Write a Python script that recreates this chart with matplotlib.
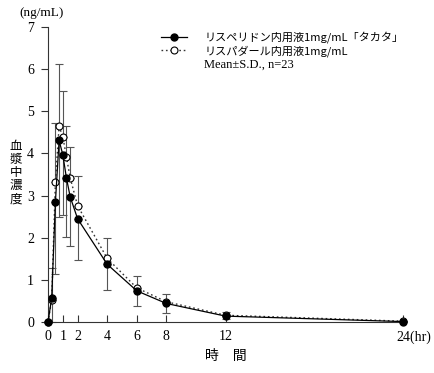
import matplotlib
matplotlib.use("Agg")
import matplotlib.pyplot as plt
import matplotlib.transforms as mtransforms
from matplotlib.lines import Line2D

time = [0, 0.25, 0.5, 0.75, 1, 1.25, 1.5, 2, 4, 6, 8, 12, 24]
generic_mean = [0, 0.57, 2.84, 4.31, 3.97, 3.41, 2.97, 2.45, 1.37, 0.74, 0.44, 0.14, 0.01]
generic_sd = [0, 0.57, 1.70, 1.82, 1.43, 1.40, 1.16, 0.99, 0.61, 0.35, 0.23, 0.07, 0.01]
brand_mean = [0, 0.52, 3.33, 4.64, 4.40, 3.91, 3.42, 2.76, 1.51, 0.81, 0.48, 0.16, 0.02]
brand_sd = [0, 0.75, 1.40, 1.48, 1.09, 0.75, 0.74, 0.71, 0.48, 0.29, 0.19, 0.07, 0.01]
xticks = [0, 1, 2, 4, 6, 8, 12, 24]
xticklabels = ["0", "1", "2", "4", "6", "8", "12", "24(hr)"]
yticks = [0, 1, 2, 3, 4, 5, 6, 7]
label_generic = "リスペリドン内用液1mg/mL「タカタ」"
label_brand = "リスパダール内用液1mg/mL"
label_note = "Mean±S.D., n=23"
ylabel_chars = ["血", "漿", "中", "濃", "度"]

jp = ["Noto Sans CJK JP", "DejaVu Sans"]
serif = ["Liberation Serif", "DejaVu Serif"]

fig = plt.figure(figsize=(4.34, 3.73), dpi=100)
ax = fig.add_axes([0.1106, 0.1367, 0.818, 0.791])

ecol = "#555555"
ms = 5
ax.errorbar(time, brand_mean, yerr=[[0]*len(brand_sd), brand_sd], fmt="none",
            ecolor=ecol, elinewidth=0.8, capsize=3, capthick=0.8, clip_on=False, zorder=2)
ax.errorbar(time, generic_mean, yerr=[generic_sd, [0]*len(generic_sd)], fmt="none",
            ecolor=ecol, elinewidth=0.8, capsize=3, capthick=0.8, clip_on=False, zorder=2)

ax.plot(time, brand_mean, linestyle=(0, (1.2, 2.0)), color="#333333", lw=1.0,
        marker="o", mfc="white", mec="black", ms=ms, mew=0.8, clip_on=False, zorder=3)
ax.plot(time, generic_mean, linestyle="-", color="black", lw=0.9,
        marker="o", mfc="black", mec="black", ms=ms, clip_on=False, zorder=4)

ax.set_xlim(0, 24)
ax.set_ylim(0, 7)
ax.spines["top"].set_visible(False)
ax.spines["right"].set_visible(False)
for s in ("left", "bottom"):
    ax.spines[s].set_linewidth(0.8)
    ax.spines[s].set_color("#333333")

ax.set_xticks(xticks)
ax.set_xticklabels(xticklabels, fontfamily=serif, fontsize=10)
ax.set_yticks(yticks)
ax.set_yticklabels([str(v) for v in yticks], fontfamily=serif, fontsize=10)
ax.tick_params(axis="x", direction="in", length=5, width=0.8, pad=6, color="#333333")
ax.tick_params(axis="y", direction="out", length=5, width=0.8, pad=5, color="#333333")

last = ax.get_xticklabels()[-1]
last.set_transform(last.get_transform() +
                   mtransforms.ScaledTranslation(0.11, 0, fig.dpi_scale_trans))

fig.text(0.095, 0.965, "(ng/mL)", fontfamily=serif, fontsize=9.5, ha="center", va="center")
for i, ch in enumerate(ylabel_chars):
    fig.text(0.037, 0.607 - i * 0.035, ch, fontfamily=jp, fontsize=9,
             ha="center", va="center")
fig.text(0.52, 0.045, "時　間", fontfamily=jp, fontsize=10, ha="center", va="center")

handles = [
    Line2D([], [], color="black", lw=0.9, marker="o", mfc="black", mec="black", ms=ms),
    Line2D([], [], color="#333333", lw=1.0, linestyle=(0, (1.2, 2.0)), marker="o",
           mfc="white", mec="black", ms=ms, mew=0.8),
    Line2D([], [], color="none"),
]
leg = ax.legend(handles, [label_generic, label_brand, label_note], loc="upper left",
                bbox_to_anchor=(0.305, 1.0), frameon=False, handlelength=2.4,
                handletextpad=1.5, labelspacing=0.15, borderaxespad=0.0,
                prop={"family": jp, "size": 8})
for t in leg.get_texts():
    if t.get_text().startswith("Mean"):
        t.set_fontfamily(serif)
        t.set_fontsize(9)

fig.savefig("out.png", dpi=100)
